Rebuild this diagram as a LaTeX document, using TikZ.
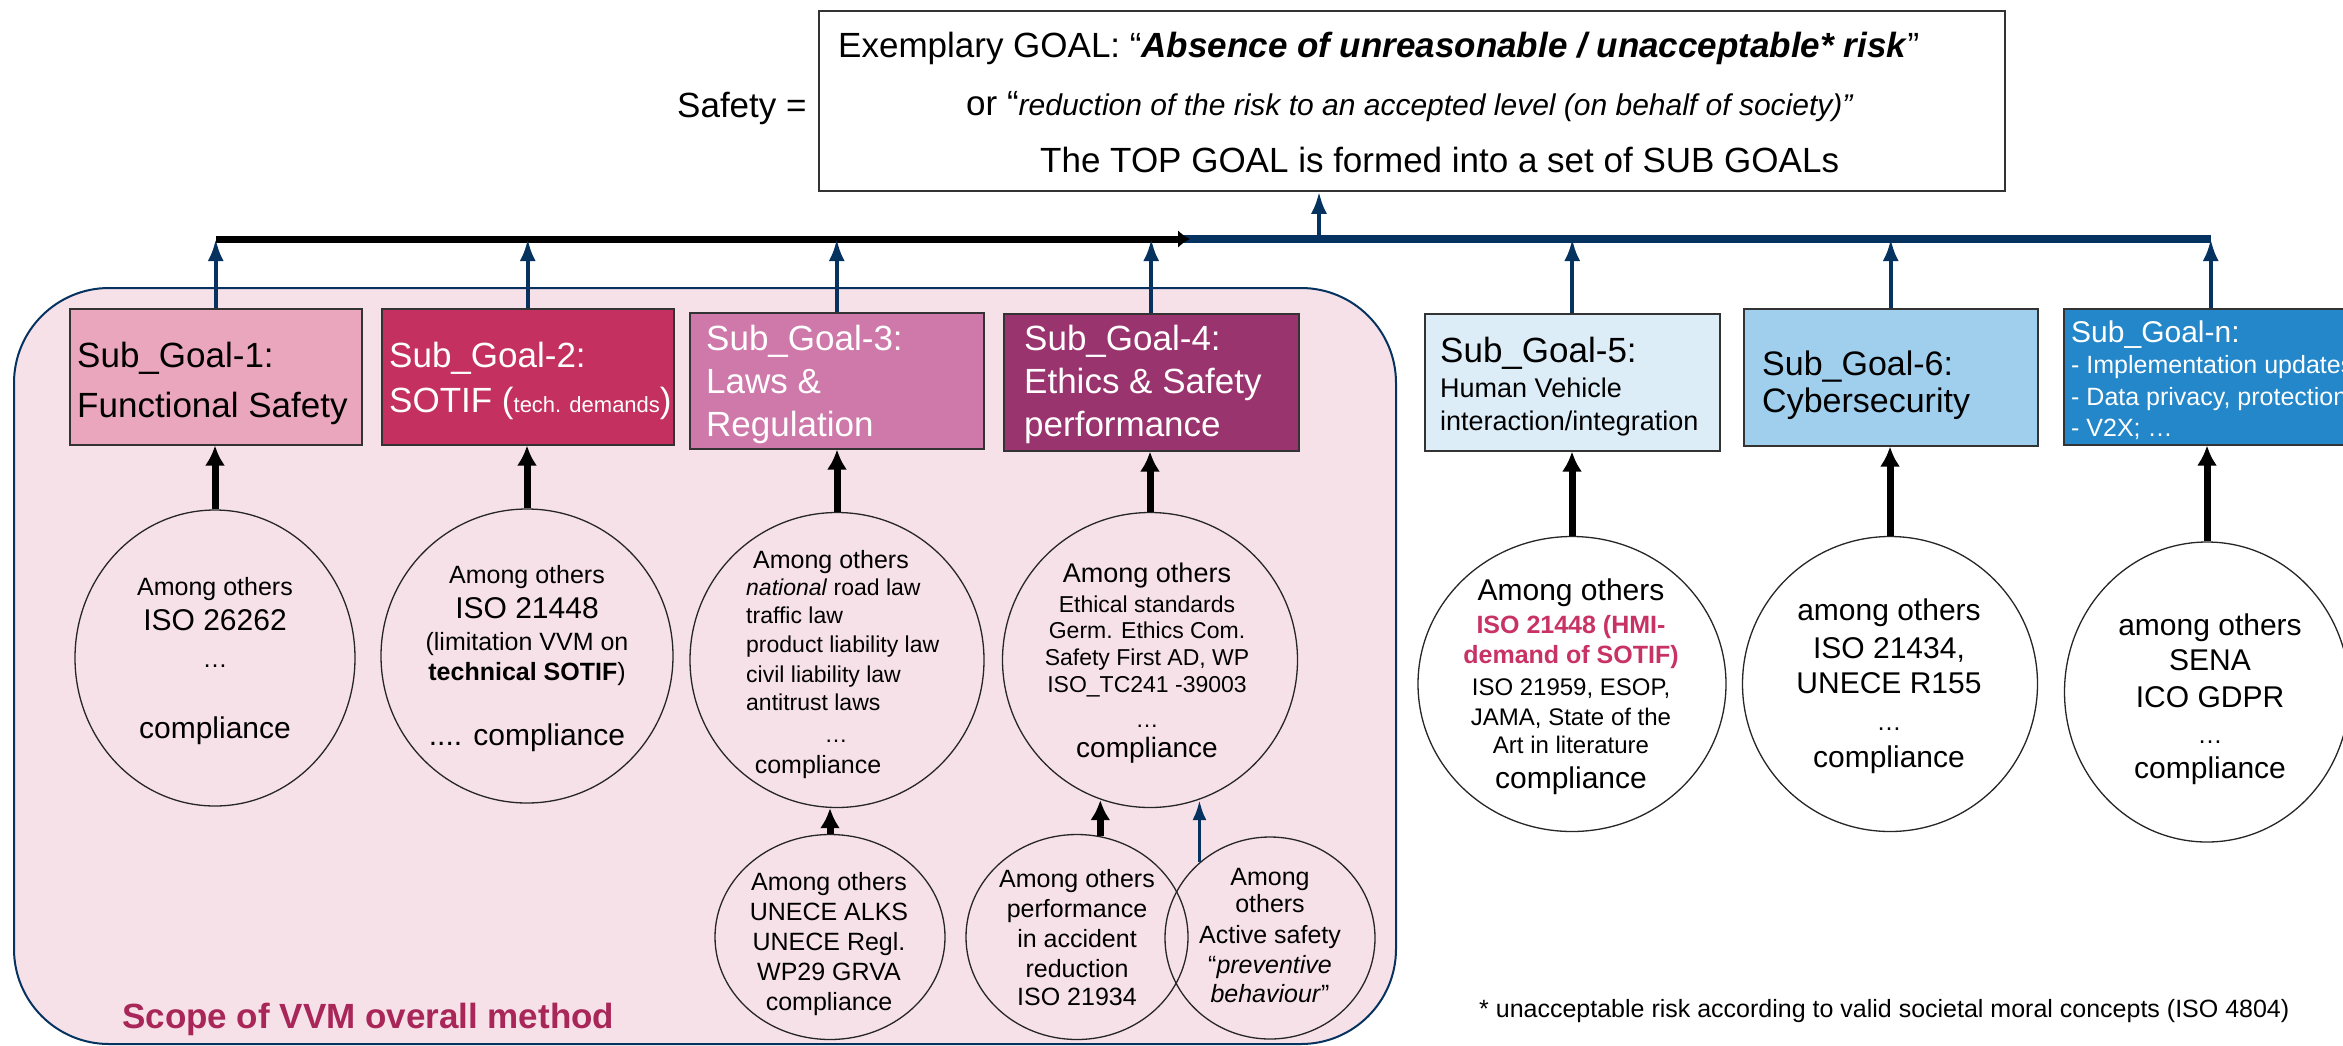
\documentclass[tikz,border=0pt]{standalone}
\usepackage{fontspec}
\setmainfont{Liberation Sans}
\usetikzlibrary{shapes.geometric,arrows.meta}
\definecolor{navy}{RGB}{5,50,95}
\definecolor{scopebg}{RGB}{247,225,233}
\definecolor{sg1}{RGB}{233,166,188}
\definecolor{sg2}{RGB}{196,49,96}
\definecolor{sg3}{RGB}{206,121,170}
\definecolor{sg4}{RGB}{154,52,110}
\definecolor{sg5}{RGB}{221,237,248}
\definecolor{sg6}{RGB}{160,206,237}
\definecolor{sgn}{RGB}{36,135,201}
\definecolor{hmi}{RGB}{200,50,100}
\definecolor{scopetxt}{RGB}{168,38,88}
\begin{document}
\begin{tikzpicture}[x=1pt,y=-1pt,
  tc/.style={anchor=base,inner sep=0pt},
  tw/.style={anchor=base west,inner sep=0pt},
  f35/.style={font=\fontsize{35pt}{35pt}\selectfont},
  f34/.style={font=\fontsize{34pt}{34pt}\selectfont},
  f30/.style={font=\fontsize{30pt}{30pt}\selectfont},
  f28/.style={font=\fontsize{28pt}{28pt}\selectfont},
  f27/.style={font=\fontsize{27pt}{27pt}\selectfont},
  f25/.style={font=\fontsize{25pt}{25pt}\selectfont},
  f24/.style={font=\fontsize{24pt}{24pt}\selectfont},
  f23/.style={font=\fontsize{23pt}{23pt}\selectfont},
  sgbox/.style={draw=black!80,line width=1.5pt,anchor=north west,inner sep=0pt},
  bubble/.style={ellipse,draw=black!85,line width=1.3pt,inner sep=0pt},
  upnavy/.style={draw=navy,line width=4pt,-{Latex[length=22pt,width=16pt]}},
  upblack/.style={draw=black,line width=7pt,-{Latex[length=20pt,width=20pt]}}]

\useasboundingbox (0,0) rectangle (2343,1045);
\clip (0,0) rectangle (2343,1045);
\fill[white] (0,0) rectangle (2343,1045);

% scope area
\node[draw=navy,line width=2pt,fill=scopebg,rounded corners=95pt,minimum width=1382pt,minimum height=756pt,inner sep=0pt,anchor=north west] (scope) at (13,287) {};

% top goal box
\node[draw=black!80,line width=1.5pt,minimum width=1186pt,minimum height=180pt,inner sep=0pt] (top) at (1412,101) {};
\node[tw,f35] (topl1) at (838,57) {Exemplary GOAL: “\textbf{\textit{Absence of unreasonable / unacceptable* risk}}”};
\node[tw,f35] (topl2) at (966,115) {or “{\fontsize{30pt}{30pt}\selectfont\itshape reduction of the risk to an accepted level (on behalf of society)”}};
\node[tw,f35] (topl3) at (1040,172) {The TOP GOAL is formed into a set of SUB GOALs};
\node[tw,f35] (safety) at (677,117) {Safety =};

% sub goal boxes
\node[sgbox,fill=sg1,minimum width=292pt,minimum height=136pt] (B1) at (69,308) {};
\node[sgbox,fill=sg2,minimum width=292pt,minimum height=136pt] (B2) at (381,308) {};
\node[sgbox,fill=sg3,minimum width=294pt,minimum height=136pt] (B3) at (689,312) {};
\node[sgbox,fill=sg4,minimum width=295pt,minimum height=137pt] (B4) at (1003,313) {};
\node[sgbox,fill=sg5,minimum width=295pt,minimum height=137pt] (B5) at (1424,313) {};
\node[sgbox,fill=sg6,minimum width=294pt,minimum height=137pt] (B6) at (1743,308) {};
\node[sgbox,fill=sgn,minimum width=294pt,minimum height=136pt] (Bn) at (2063,308) {};

\node[tw,f35] (b1a) at (77,367) {Sub\_Goal-1:};
\node[tw,f35] (b1b) at (77,417) {Functional Safety};
\node[tw,f35,text=white] (b2a) at (389,367) {Sub\_Goal-2:};
\node[tw,f35,text=white] (b2b) at (389,412) {SOTIF ({\fontsize{22pt}{22pt}\selectfont tech. demands})};
\node[tw,f35,text=white] (b3a) at (706,350) {Sub\_Goal-3:};
\node[tw,f35,text=white] (b3b) at (706,393) {Laws \&};
\node[tw,f35,text=white] (b3c) at (706,436) {Regulation};
\node[tw,f35,text=white] (b4a) at (1024,350) {Sub\_Goal-4:};
\node[tw,f35,text=white] (b4b) at (1024,393) {Ethics \& Safety};
\node[tw,f35,text=white] (b4c) at (1024,436) {performance};
\node[tw,f35] (b5a) at (1440,362) {Sub\_Goal-5:};
\node[tw,f27] (b5b) at (1440,397) {Human Vehicle};
\node[tw,f27] (b5c) at (1440,430) {interaction/integration};
\node[tw,f34] (b6a) at (1762,375) {Sub\_Goal-6:};
\node[tw,f34] (b6b) at (1762,412) {Cybersecurity};
\node[tw,f30,text=white] (bna) at (2071,342) {Sub\_Goal-n:};
\node[tw,f25,text=white] (bnb) at (2071,373) {- Implementation updates};
\node[tw,f25,text=white] (bnc) at (2071,405) {- Data privacy, protection};
\node[tw,f25,text=white] (bnd) at (2071,436) {- V2X; …};

% ellipses
\node[bubble,minimum width=280pt,minimum height=296pt] (E1) at (215,658) {};
\node[bubble,minimum width=292pt,minimum height=294pt] (E2) at (527,656) {};
\node[bubble,minimum width=294pt,minimum height=295pt] (E3) at (837,660) {};
\node[bubble,minimum width=295pt,minimum height=295pt] (E4) at (1150,660) {};
\node[bubble,minimum width=308pt,minimum height=295pt] (E5) at (1572,684) {};
\node[bubble,minimum width=295pt,minimum height=295pt] (E6) at (1890,684) {};
\node[bubble,minimum width=285pt,minimum height=300pt] (En) at (2207,692) {};
\node[bubble,minimum width=230pt,minimum height=205pt] (E3b) at (830,937) {};
\node[bubble,minimum width=222pt,minimum height=205pt] (E4a) at (1077,937) {};
\node[bubble,minimum width=210pt,minimum height=202pt] (E4b) at (1270,938) {};

% ellipse texts
\node[tc,f25] (e1a) at (215,595) {Among others};
\node[tc,f30] (e1b) at (215,630) {ISO 26262};
\node[tc,f25] (e1c) at (215,667) {…};
\node[tc,f30] (e1d) at (215,738) {compliance};

\node[tc,f25] (e2a) at (527,583) {Among others};
\node[tc,f30] (e2b) at (527,618) {ISO 21448};
\node[tc,f25] (e2c) at (527,650) {(limitation VVM on};
\node[tc,f25] (e2d) at (527,680) {\textbf{technical SOTIF})};
\node[tc,f30] (e2e) at (527,745) {.... compliance};

\node[tc,f25] (e3a) at (831,568) {Among others};
\node[tw,f23] (e3b) at (746,595) {\textit{national} road law};
\node[tw,f23] (e3c) at (746,623) {traffic law};
\node[tw,f23] (e3d) at (746,652) {product liability law};
\node[tw,f23] (e3e) at (746,682) {civil liability law};
\node[tw,f23] (e3f) at (746,710) {antitrust laws};
\node[tc,f23] (e3g) at (836,742) {…};
\node[tc,f25] (e3h) at (818,773) {compliance};

\node[tc,f27] (e4a) at (1147,582) {Among others};
\node[tc,f23] (e4b) at (1147,612) {Ethical standards};
\node[tc,f23] (e4c) at (1147,638) {Germ. Ethics Com.};
\node[tc,f23] (e4d) at (1147,665) {Safety First AD, WP};
\node[tc,f23] (e4e) at (1147,692) {ISO\_TC241 -39003};
\node[tc,f23] (e4f) at (1147,727) {…};
\node[tc,f28] (e4g) at (1147,757) {compliance};

\node[tc,f30] (e5a) at (1571,600) {Among others};
\node[tc,f25,text=hmi] (e5b) at (1571,633) {\textbf{ISO 21448 (HMI-}};
\node[tc,f25,text=hmi] (e5c) at (1571,663) {\textbf{demand of SOTIF)}};
\node[tc,f24] (e5d) at (1571,695) {ISO 21959, ESOP,};
\node[tc,f24] (e5e) at (1571,725) {JAMA, State of the};
\node[tc,f24] (e5f) at (1571,753) {Art in literature};
\node[tc,f30] (e5g) at (1571,788) {compliance};

\node[tc,f30] (e6a) at (1889,620) {among others};
\node[tc,f30] (e6b) at (1889,658) {ISO 21434,};
\node[tc,f30] (e6c) at (1889,693) {UNECE R155};
\node[tc,f25] (e6d) at (1889,730) {…};
\node[tc,f30] (e6e) at (1889,767) {compliance};

\node[tc,f30] (ena) at (2210,635) {among others};
\node[tc,f30] (enb) at (2210,670) {SENA};
\node[tc,f30] (enc) at (2210,707) {ICO GDPR};
\node[tc,f25] (end) at (2210,743) {…};
\node[tc,f30] (ene) at (2210,778) {compliance};

\node[tc,f25] (e3ba) at (829,890) {Among others};
\node[tc,f25] (e3bb) at (829,920) {UNECE ALKS};
\node[tc,f25] (e3bc) at (829,950) {UNECE Regl.};
\node[tc,f25] (e3bd) at (829,980) {WP29 GRVA};
\node[tc,f25] (e3be) at (829,1010) {compliance};

\node[tc,f25] (e4aa) at (1077,887) {Among others};
\node[tc,f25] (e4ab) at (1077,917) {performance};
\node[tc,f25] (e4ac) at (1077,947) {in accident};
\node[tc,f25] (e4ad) at (1077,977) {reduction};
\node[tc,f25] (e4ae) at (1077,1005) {ISO 21934};

\node[tc,f25] (e4ba) at (1270,885) {Among};
\node[tc,f25] (e4bb) at (1270,912) {others};
\node[tc,f25] (e4bc) at (1270,943) {Active safety};
\node[tc,f25] (e4bd) at (1270,973) {“\textit{preventive}};
\node[tc,f25] (e4be) at (1270,1002) {\textit{behaviour}”};

% labels
\node[tw,f35,text=scopetxt] (scopelbl) at (122,1028) {\bfseries Scope of VVM overall method};
\node[tw,f25] (foot) at (1479,1017) {* unacceptable risk according to valid societal moral concepts (ISO 4804)};

% bus
\coordinate (bus) at (0,239);
\coordinate (busmid) at (1180,239);
\coordinate (busend) at (1190,239);
\coordinate (topup) at (1319,239);
\draw[navy,line width=8pt] (busmid) -- (Bn.north |- bus);
\draw[black,line width=7pt,-{Latex[length=12pt,width=18pt]}] (B1.north |- bus) -- (busend);
\draw[upnavy] (topup) -- (topup |- top.south);
\foreach \b in {B1,B2,B3,B4,B5,B6,Bn}{
  \draw[upnavy] (\b.north) -- (\b.north |- bus);
}

% ellipse to box arrows
\draw[upblack] (E1.north) -- (E1.north |- B1.south);
\draw[upblack] (E2.north) -- (E2.north |- B2.south);
\draw[upblack] (E3.north) -- (E3.north |- B3.south);
\draw[upblack] (E4.north) -- (E4.north |- B4.south);
\draw[upblack] (E5.north) -- (E5.north |- B5.south);
\draw[upblack] (E6.north) -- (E6.north |- B6.south);
\draw[upblack] (En.north) -- (En.north |- Bn.south);
\draw[upblack] (E3b.north) -- (E3b.north |- E3.south);
\draw[upblack] (E4a.77) -- (E4a.77 |- E4.251);
\draw[navy,line width=3.5pt,-{Latex[length=20pt,width=14pt]}] (E4b.133) -- (E4b.133 |- E4.289);
\end{tikzpicture}
\end{document}
